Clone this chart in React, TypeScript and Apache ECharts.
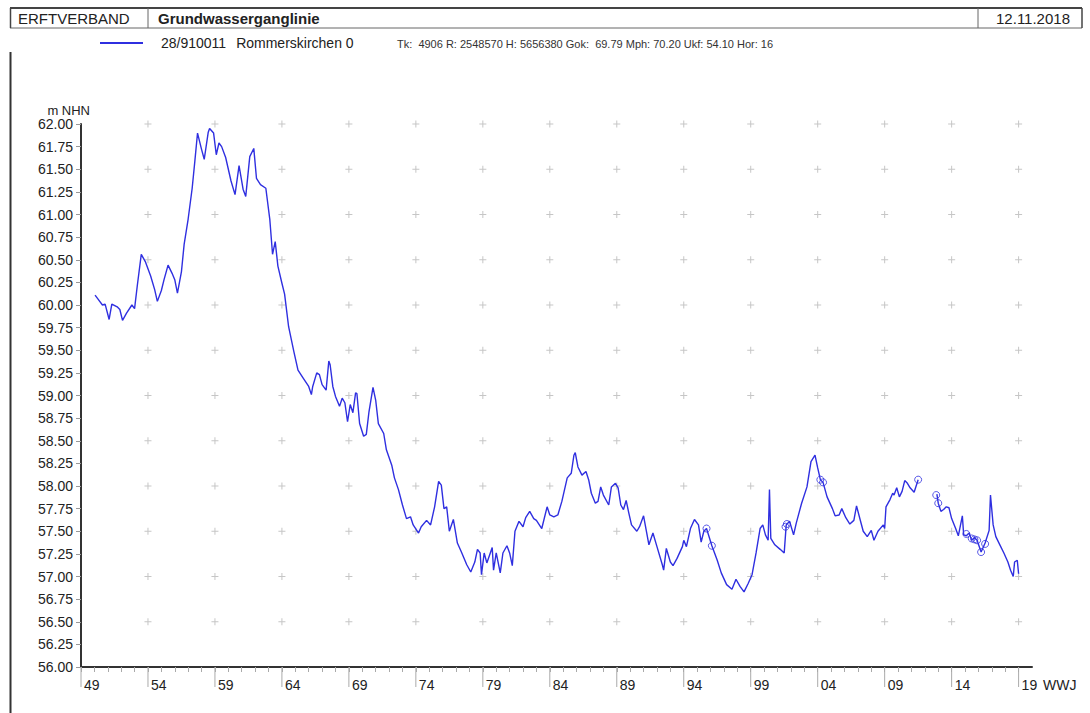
import React, { useEffect, useRef } from "react";
import * as echarts from "echarts";

const FONT = "'Liberation Sans', Arial, Helvetica, sans-serif";
const LINE_BLUE = "#2f2fe0";

// Hydrological years (WWJ, decimal) and groundwater levels in m NHN.
// A null level breaks the hydrograph where no readings exist.
const years = [
  1950.05, 1950.3, 1950.6, 1950.8, 1951.1, 1951.3, 1951.7, 1951.9, 1952.1, 1952.4,
  1952.8, 1953.0, 1953.2, 1953.5, 1953.8, 1954.2, 1954.5, 1954.7, 1955.0, 1955.2,
  1955.5, 1955.8, 1956.0, 1956.2, 1956.5, 1956.7, 1957.0, 1957.3, 1957.5, 1957.7,
  1958.0, 1958.2, 1958.5, 1958.6, 1958.9, 1959.1, 1959.3, 1959.5, 1959.8, 1960.2,
  1960.5, 1960.8, 1961.1, 1961.3, 1961.6, 1961.9, 1962.1, 1962.4, 1962.8, 1963.1,
  1963.3, 1963.5, 1963.7, 1964.0, 1964.2, 1964.5, 1964.9, 1965.2, 1965.6, 1966.0,
  1966.2, 1966.3, 1966.6, 1966.8, 1967.0, 1967.3, 1967.5, 1967.6, 1967.8, 1968.0,
  1968.3, 1968.5, 1968.7, 1968.9, 1969.1, 1969.3, 1969.5, 1969.6, 1969.8, 1970.1,
  1970.3, 1970.5, 1970.8, 1971.0, 1971.2, 1971.6, 1971.8, 1972.2, 1972.4, 1972.7,
  1973.0, 1973.3, 1973.6, 1973.8, 1974.2, 1974.4, 1974.8, 1975.1, 1975.4, 1975.7,
  1975.9, 1976.1, 1976.3, 1976.5, 1976.8, 1977.1, 1977.4, 1977.8, 1978.1, 1978.4,
  1978.6, 1978.8, 1978.9, 1979.1, 1979.3, 1979.7, 1979.8, 1980.0, 1980.3, 1980.5,
  1980.8, 1981.0, 1981.2, 1981.4, 1981.7, 1982.0, 1982.2, 1982.5, 1982.8, 1983.0,
  1983.4, 1983.8, 1984.0, 1984.3, 1984.6, 1984.9, 1985.3, 1985.6, 1985.8, 1985.9,
  1986.1, 1986.4, 1986.7, 1986.9, 1987.1, 1987.4, 1987.6, 1987.8, 1988.0, 1988.4,
  1988.6, 1988.9, 1989.1, 1989.3, 1989.5, 1989.7, 1989.9, 1990.1, 1990.5, 1990.7,
  1991.0, 1991.2, 1991.4, 1991.7, 1992.0, 1992.4, 1992.5, 1992.7, 1993.0, 1993.2,
  1993.5, 1993.9, 1994.0, 1994.2, 1994.5, 1994.8, 1995.1, 1995.3, 1995.5, 1995.7,
  1996.1, 1996.5, 1996.8, 1997.2, 1997.6, 1997.9, 1998.2, 1998.5, 1998.8, 1999.1,
  1999.4, 1999.7, 1999.9, 2000.1, 2000.3, 2000.4, 2000.5, 2000.8, 2001.2, 2001.5,
  2001.65, 2001.9, 2002.2, 2002.4, 2002.8, 2003.2, 2003.5, 2003.8, 2004.0, 2004.2,
  2004.4, 2004.7, 2005.1, 2005.3, 2005.6, 2005.8, 2006.1, 2006.4, 2006.7, 2006.9,
  2007.2, 2007.4, 2007.7, 2008.0, 2008.2, 2008.5, 2008.9, 2009.0, 2009.1, 2009.4,
  2009.6, 2009.7, 2009.9, 2010.1, 2010.3, 2010.5, 2010.7, 2010.9, 2011.2, 2011.5,
  2012.2, 2012.9, 2013.0, 2013.2, 2013.4, 2013.6, 2013.8, 2014.0, 2014.3, 2014.5,
  2014.8, 2014.9, 2015.1, 2015.3, 2015.5, 2015.7, 2015.9, 2016.2, 2016.5, 2016.8,
  2016.9, 2017.1, 2017.3, 2017.6, 2017.9, 2018.2, 2018.4, 2018.6, 2018.7, 2018.9,
  2019.0,
];

const levels: (number | null)[] = [
  60.11, 60.06, 60.0, 60.01, 59.84, 60.01, 59.98, 59.95, 59.83, 59.91,
  60.0, 59.96, 60.21, 60.56, 60.48, 60.32, 60.17, 60.04, 60.16, 60.28,
  60.44, 60.35, 60.28, 60.13, 60.37, 60.67, 60.95, 61.29, 61.59, 61.9,
  61.72, 61.61, 61.91, 61.95, 61.9, 61.66, 61.79, 61.75, 61.63, 61.37,
  61.22, 61.54, 61.28, 61.2, 61.64, 61.73, 61.4, 61.33, 61.29, 60.94,
  60.56, 60.7, 60.43, 60.24, 60.12, 59.76, 59.48, 59.28, 59.19, 59.1,
  59.01, 59.1, 59.25, 59.23, 59.12, 59.06, 59.38, 59.34, 59.1, 58.99,
  58.88, 58.97, 58.92, 58.71, 58.9, 58.81, 59.03, 59.02, 58.69, 58.55,
  58.57, 58.82, 59.09, 58.95, 58.69, 58.58, 58.4, 58.23, 58.09, 57.96,
  57.79, 57.64, 57.66, 57.57, 57.48, 57.55, 57.62, 57.57, 57.77, 58.05,
  58.01, 57.75, 57.77, 57.5, 57.63, 57.37, 57.27, 57.13, 57.05, 57.16,
  57.3, 57.26, 57.02, 57.26, 57.15, 57.32, 57.07, 57.26, 57.04, 57.26,
  57.34, 57.26, 57.12, 57.5, 57.61, 57.55, 57.65, 57.72, 57.64, 57.62,
  57.53, 57.77, 57.68, 57.66, 57.68, 57.83, 58.09, 58.14, 58.34, 58.37,
  58.21, 58.12, 58.16, 58.07, 57.92, 57.81, 57.83, 57.99, 57.9, 57.79,
  57.99, 58.03, 57.98, 57.79, 57.74, 57.84, 57.7, 57.57, 57.5, 57.55,
  57.67, 57.51, 57.35, 57.48, 57.33, 57.13, 57.07, 57.31, 57.16, 57.12,
  57.2, 57.33, 57.4, 57.33, 57.53, 57.63, 57.57, 57.38, 57.5, 57.53,
  57.34, 57.18, 57.04, 56.91, 56.86, 56.97, 56.89, 56.83, 56.92, 57.02,
  57.26, 57.53, 57.57, 57.46, 57.4, 57.96, 57.42, 57.35, 57.3, 57.26,
  57.57, 57.61, 57.46, 57.59, 57.81, 57.99, 58.27, 58.34, 58.2, 58.07,
  58.04, 57.88, 57.75, 57.67, 57.68, 57.75, 57.65, 57.58, 57.62, 57.78,
  57.61, 57.5, 57.44, 57.51, 57.4, 57.5, 57.57, 57.53, 57.77, 57.85,
  57.92, 57.9, 57.98, 57.88, 57.94, 58.06, 58.03, 57.98, 57.93, 58.07,
  null, 57.91, 57.81, 57.72, 57.74, 57.77, 57.76, 57.64, 57.53, 57.45,
  57.67, 57.46, 57.45, 57.48, 57.4, 57.43, 57.4, 57.27, 57.37, 57.51,
  57.9, 57.57, 57.44, 57.35, 57.26, 57.16, 57.07, 57.0, 57.16, 57.18,
  57.03,
];

// Readings marked with an open circle
const flaggedYears = [
  1995.7, 1996.1, 2001.6, 2001.7, 2004.2, 2004.4, 2011.5, 2012.85, 2013.0,
  2015.1, 2015.5, 2015.7, 2015.9, 2016.2, 2016.5,
];
const flaggedLevels = [
  57.53, 57.34, 57.55, 57.58, 58.07, 58.04, 58.07, 57.9, 57.81,
  57.47, 57.42, 57.41, 57.4, 57.27, 57.36,
];

// Axis ticks
const majorTickYears = [1949, 1954, 1959, 1964, 1969, 1974, 1979, 1984, 1989, 1994, 1999, 2004, 2009, 2014, 2019];
const gridMarkLevels = [56.5, 57, 57.5, 58, 58.5, 59, 59.5, 60, 60.5, 61, 61.5, 62];

const infoText =
  "Tk:  4906 R: 2548570 H: 5656380 Gok:  69.79 Mph: 70.20 Ukf: 54.10 Hor: 16";

const plusPath = "path://M3,0H4V7H3ZM0,3H7V4H0Z";

export default function App() {
  const ref = useRef<HTMLDivElement>(null);

  useEffect(() => {
    if (!ref.current) return;
    const chart = echarts.init(ref.current, undefined, { renderer: "svg" });

    const lineData = years.map((y, i) => [y, levels[i]]);
    const flaggedData = flaggedYears.map((y, i) => [y, flaggedLevels[i]]);
    const gridMarks: number[][] = [];
    majorTickYears
      .filter((y) => y > 1949)
      .forEach((y) => gridMarkLevels.forEach((v) => gridMarks.push([y, v])));

    const option: any = {
      animation: false,
      backgroundColor: "#ffffff",
      textStyle: { fontFamily: FONT },
      grid: { left: 81, right: 58, top: 124, bottom: 46, containLabel: false },
      legend: {
        data: [{ name: "28/910011", icon: "rect" }],
        left: 100,
        top: 36,
        padding: 0,
        itemWidth: 43,
        itemHeight: 2,
        itemGap: 0,
        selectedMode: false,
        formatter: (name: string) => `{a|${name}}{b|Rommerskirchen 0}`,
        textStyle: {
          fontFamily: FONT,
          fontSize: 14,
          color: "#222",
          rich: {
            a: { fontFamily: FONT, fontSize: 14, color: "#222", padding: [0, 0, 0, 13] },
            b: { fontFamily: FONT, fontSize: 14, color: "#222", padding: [0, 0, 0, 10] },
          },
        },
      },
      xAxis: {
        type: "value",
        min: 1949,
        max: 2020,
        interval: 1,
        name: "WWJ",
        nameLocation: "end",
        nameGap: 5,
        nameTextStyle: {
          fontFamily: FONT,
          fontSize: 14,
          color: "#222",
          verticalAlign: "top",
          padding: [11, 0, 0, 0],
        },
        axisLine: { show: true, onZero: false, lineStyle: { color: "#333", width: 2 } },
        axisTick: { show: true, length: 5, lineStyle: { color: "#aaa", width: 1 } },
        axisLabel: {
          show: true,
          hideOverlap: false,
          showMaxLabel: false,
          margin: 11,
          align: "left",
          padding: [0, 0, 0, 3],
          fontFamily: FONT,
          fontSize: 14,
          color: "#222",
          formatter: (v: number) =>
            majorTickYears.includes(Math.round(v)) ? String(Math.round(v) % 100).padStart(2, "0") : "",
        },
        splitLine: { show: false },
      },
      yAxis: {
        type: "value",
        min: 56,
        max: 62,
        interval: 0.25,
        axisLine: { show: true, onZero: false, lineStyle: { color: "#333", width: 2 } },
        axisTick: { show: true, length: 5, lineStyle: { color: "#999", width: 1 } },
        axisLabel: {
          margin: 8,
          fontFamily: FONT,
          fontSize: 14,
          color: "#222",
          formatter: (v: number) => v.toFixed(2),
        },
        splitLine: { show: false },
      },
      series: [
        {
          type: "scatter",
          name: "grid",
          data: gridMarks,
          symbol: plusPath,
          symbolSize: 7,
          itemStyle: { color: "#b8b8b8" },
          silent: true,
          z: 1,
        },
        {
          type: "custom",
          name: "majorTicks",
          data: majorTickYears.map((y) => [y, 56]),
          silent: true,
          clip: false,
          renderItem: (_params: any, api: any) => {
            const p = api.coord([api.value(0), api.value(1)]);
            return {
              type: "line",
              shape: { x1: p[0], y1: p[1], x2: p[0], y2: p[1] + 20 },
              style: { stroke: "#aaa", lineWidth: 1 },
            };
          },
          z: 1,
        },
        {
          type: "line",
          name: "28/910011",
          data: lineData,
          symbol: "none",
          showSymbol: false,
          connectNulls: false,
          lineStyle: { color: LINE_BLUE, width: 1.4 },
          itemStyle: { color: LINE_BLUE },
          z: 3,
        },
        {
          type: "scatter",
          name: "flagged",
          data: flaggedData,
          symbol: "circle",
          symbolSize: 7,
          itemStyle: { color: "rgba(0,0,0,0)", borderColor: LINE_BLUE, borderWidth: 1 },
          silent: true,
          z: 4,
        },
      ],
      graphic: [
        // title block
        { type: "line", shape: { x1: 10, y1: 8, x2: 1082, y2: 8 }, style: { stroke: "#444", lineWidth: 2 } },
        { type: "line", shape: { x1: 10, y1: 28, x2: 1082, y2: 28 }, style: { stroke: "#666", lineWidth: 1 } },
        { type: "line", shape: { x1: 10.5, y1: 8, x2: 10.5, y2: 28 }, style: { stroke: "#444", lineWidth: 1.5 } },
        { type: "line", shape: { x1: 1082, y1: 8, x2: 1082, y2: 28 }, style: { stroke: "#444", lineWidth: 1.5 } },
        { type: "line", shape: { x1: 148, y1: 8, x2: 148, y2: 28 }, style: { stroke: "#666", lineWidth: 1 } },
        { type: "line", shape: { x1: 978, y1: 8, x2: 978, y2: 28 }, style: { stroke: "#666", lineWidth: 1 } },
        { type: "line", shape: { x1: 10.5, y1: 52, x2: 10.5, y2: 713 }, style: { stroke: "#333", lineWidth: 2 } },
        {
          type: "text",
          x: 18,
          y: 18,
          style: { text: "ERFTVERBAND", font: `15px ${FONT}`, fill: "#222", verticalAlign: "middle" },
        },
        {
          type: "text",
          x: 158,
          y: 18,
          style: { text: "Grundwasserganglinie", font: `bold 15px ${FONT}`, fill: "#222", verticalAlign: "middle" },
        },
        {
          type: "text",
          x: 1070,
          y: 18,
          style: { text: "12.11.2018", font: `15px ${FONT}`, fill: "#222", align: "right", verticalAlign: "middle" },
        },
        {
          type: "text",
          x: 397,
          y: 44,
          style: { text: infoText, font: `11px ${FONT}`, fill: "#333", verticalAlign: "middle" },
        },
        {
          type: "text",
          x: 90,
          y: 110,
          style: { text: "m NHN", font: `13px ${FONT}`, fill: "#222", align: "right", verticalAlign: "middle" },
        },
      ],
    };

    chart.setOption(option);
    return () => chart.dispose();
  }, []);

  return (
    <div
      ref={ref}
      style={{ position: "absolute", left: 0, top: 0, width: 1090, height: 713, background: "#fff" }}
    />
  );
}
